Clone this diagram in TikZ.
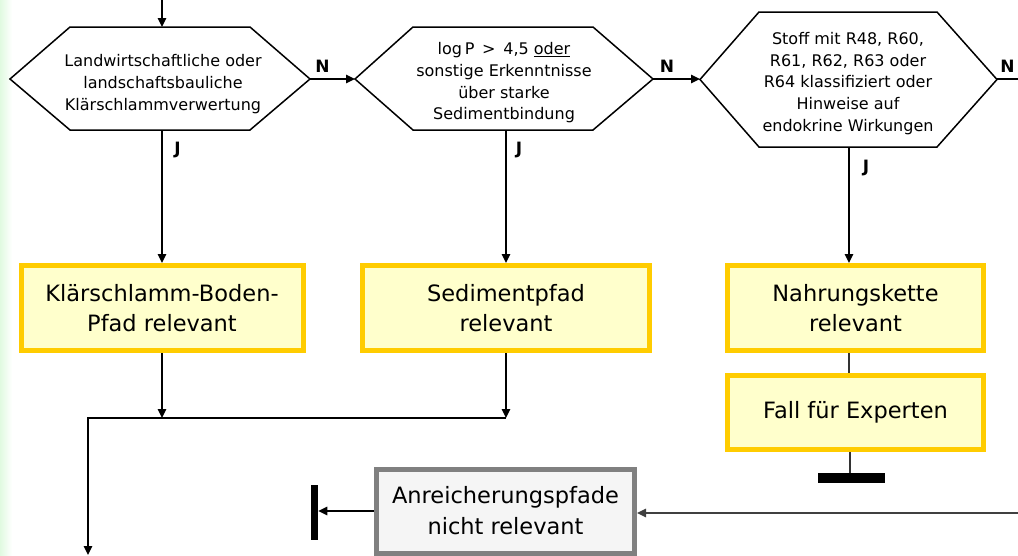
\documentclass[tikz,border=0pt]{standalone}
\usepackage{fontspec}
\setmainfont{DejaVu Sans}
\usetikzlibrary{arrows.meta,calc}
\definecolor{pathgold}{HTML}{FFCC00}
\definecolor{pathfill}{HTML}{FFFFCC}
\definecolor{offgray}{HTML}{808080}
\definecolor{offfill}{HTML}{F5F5F5}
\definecolor{sidegreen}{HTML}{E0FAE0}
\begin{document}
\begin{tikzpicture}[x=1pt,y=-1pt,
  tip/.style={-{Triangle[length=9pt,width=8.5pt]}},
  flow/.style={draw=black,line width=1.4pt},
  hexline/.style={draw=black,line width=1.5pt,fill=white,line join=miter},
  qtext/.style={inner sep=0pt,align=center,font=\fontsize{16}{21.7}\selectfont},
  result/.style={draw=pathgold,fill=pathfill,line width=5pt,align=center,inner sep=0pt,
    font=\fontsize{22.5}{30}\selectfont},
  offbox/.style={draw=offgray,fill=offfill,line width=5pt,align=center,inner sep=0pt,
    font=\fontsize{22.5}{31}\selectfont},
  yn/.style={inner sep=0pt,font=\fontsize{17}{20}\selectfont\bfseries},
  stopbar/.style={fill=black,draw=none,inner sep=0pt,outer sep=0pt}]

\useasboundingbox (0,0) rectangle (1018,555);
\shade[left color=sidegreen,right color=white] (0,0) rectangle (12,555);

% decision hexagons
\draw[hexline] (10,79) -- (70,27) -- (250,27) -- (310,79) -- (250,130) -- (70,130) -- cycle;
\draw[hexline] (355,79) -- (413,27) -- (593,27) -- (653,79) -- (593,130) -- (413,130) -- cycle;
\draw[hexline] (700,79.5) -- (759,12) -- (937,12) -- (997,79.5) -- (937,147) -- (759,147) -- cycle;

\coordinate (h1N) at (162,27);
\coordinate (h1S) at (162,130);
\coordinate (h1E) at (310,79);
\coordinate (h2W) at (355,79);
\coordinate (h2E) at (653,79);
\coordinate (h2S) at (506,130);
\coordinate (h3W) at (700,79);
\coordinate (h3E) at (997,79);
\coordinate (h3S) at (849,147);

\node[qtext] (q1) at (163,84) {Landwirtschaftliche oder\\landschaftsbauliche\\Klärschlammverwertung};
\node[qtext] (q2) at (504,83) {log\,P \,>\, 4,5 \underline{oder}\\sonstige Erkenntnisse\\über starke\\Sedimentbindung};
\node[qtext] (q3) at (848,83.5) {Stoff mit R48, R60,\\R61, R62, R63 oder\\R64 klassifiziert oder\\Hinweise auf\\endokrine Wirkungen};

% result boxes
\node[result,minimum width=282pt,minimum height=85pt] (r1) at (162,308) {Klärschlamm-Boden-\\Pfad relevant};
\node[result,minimum width=287pt,minimum height=85pt] (r2) at (506,308) {Sedimentpfad\\relevant};
\node[result,minimum width=256pt,minimum height=85pt] (r3) at (855.5,308) {Nahrungskette\\relevant};
\node[result,minimum width=256pt,minimum height=74pt] (r4) at (855.5,412.5) {Fall für Experten};
\node[offbox,minimum width=258pt,minimum height=84pt] (off) at (505.5,511) {Anreicherungspfade\\nicht relevant};

% stop bars
\node[stopbar,minimum width=67pt,minimum height=10pt] (bar1) at (851.5,478) {};
\node[stopbar,minimum width=7.5pt,minimum height=55pt] (bar2) at (314.5,512.5) {};

% yes / no labels
\node[yn] (n1) at (322.5,66.5) {N};
\node[yn] (n2) at (667,66.5) {N};
\node[yn] (n3) at (1007.5,66.5) {N};
\node[yn] (j1l) at (177.5,150) {J};
\node[yn] (j2l) at (519,150) {J};
\node[yn] (j3l) at (866,168) {J};

% connectors
\coordinate (entry) at (162,0);
\coordinate (exitN) at (1018,79);
\coordinate (j1) at (162,418);
\coordinate (j2) at (506,418);
\coordinate (corner) at (88,418);
\coordinate (out) at (88,555);
\coordinate (feed) at (1018,513);

\draw[flow,tip] (entry) -- (h1N);
\draw[flow,tip] (h1E) -- (h2W);
\draw[flow,tip] (h2E) -- (h3W);
\draw[flow] (h3E) -- (exitN);
\draw[flow,tip] (h1S) -- (r1.north);
\draw[flow,tip] (h2S) -- (r2.north);
\draw[flow,tip] (h3S) -- (h3S |- r3.north);
\draw[flow,tip] (r1.south) -- (j1);
\draw[flow,tip] (r2.south) -- (j2);
\draw[flow,tip] (j2) -- (corner) -- (out);
\draw[flow,draw=black!80] (h3S |- r3.south) -- (h3S |- r4.north);
\draw[flow,draw=black!80] ($(h3S |- r4.south)+(1,0)$) -- ($(h3S |- bar1.north)+(1,0)$);
\draw[flow,tip] (off.west) -- (off.west -| bar2.east);
\draw[flow,tip,draw=black!75,fill=black!75] (feed) -- (feed -| off.east);
\end{tikzpicture}
\end{document}
